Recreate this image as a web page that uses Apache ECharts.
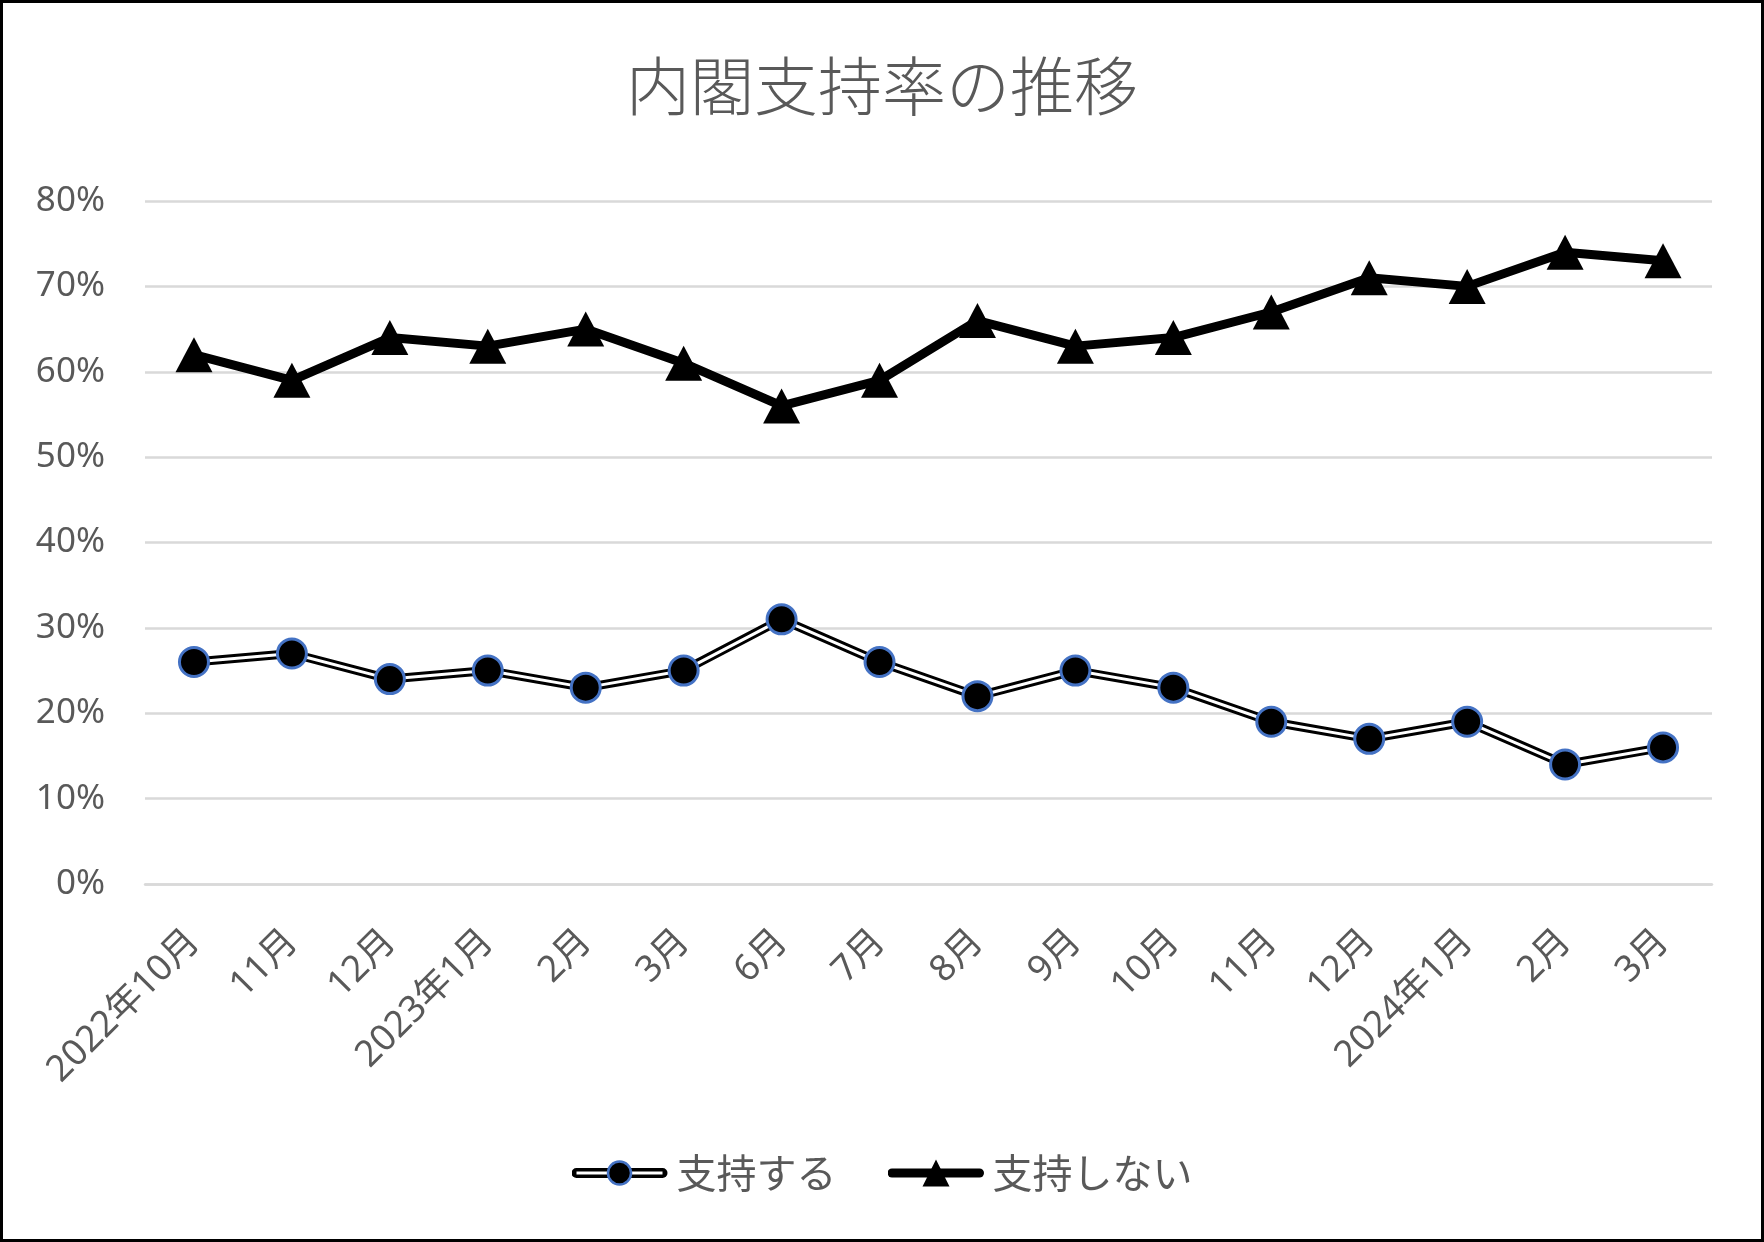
<!DOCTYPE html>
<html>
<head>
<meta charset="utf-8">
<script src="https://cdn.jsdelivr.net/npm/echarts@6/dist/echarts.min.js"></script>
<style>
html,body{margin:0;padding:0;background:#fff;}
#chart{position:absolute;left:0;top:0;width:1764px;height:1242px;}
#frame{position:absolute;left:0;top:0;width:1764px;height:1242px;box-sizing:border-box;border:3px solid #000;pointer-events:none;}
</style>
</head>
<body>
<div id="chart"></div>
<div id="frame"></div>
<script>
const categories = ['2022年10月','11月','12月','2023年1月','2月','3月','6月','7月','8月','9月','10月','11月','12月','2024年1月','2月','3月'];
const supportValues = [26, 27, 24, 25, 23, 25, 31, 26, 22, 25, 23, 19, 17, 19, 14, 16];
const notSupportValues = [62, 59, 64, 63, 65, 61, 56, 59, 66, 63, 64, 67, 71, 70, 74, 73];
const seriesNames = ['支持する', '支持しない'];
const titleText = '内閣支持率の推移';

const textColor = '#595959';
const svg1 = "<svg xmlns='http://www.w3.org/2000/svg' width='100' height='28' viewBox='0 0 100 28' preserveAspectRatio='none'><line x1='5' y1='14' x2='91' y2='14' stroke='black' stroke-width='10' stroke-linecap='round'/><line x1='5' y1='14' x2='91' y2='14' stroke='white' stroke-width='3'/><circle cx='48' cy='14' r='11.5' fill='black' stroke='#4472C4' stroke-width='2.5'/></svg>";
const svg2 = "<svg xmlns='http://www.w3.org/2000/svg' width='100' height='28' viewBox='0 0 100 28' preserveAspectRatio='none'><line x1='4.5' y1='14' x2='92' y2='14' stroke='black' stroke-width='9' stroke-linecap='round'/><polygon points='48.5,0.5 35,27.5 62,27.5' fill='black'/></svg>";
const icon1 = 'image://data:image/svg+xml;charset=utf-8,' + encodeURIComponent(svg1);
const icon2 = 'image://data:image/svg+xml;charset=utf-8,' + encodeURIComponent(svg2);

const chart = echarts.init(document.getElementById('chart'), null, {renderer: 'canvas'});
chart.setOption({
  animation: false,
  backgroundColor: '#fff',
  title: {
    text: titleText,
    left: 'center',
    top: 49,
    textStyle: {
      fontFamily: '"Noto Sans CJK JP"',
      fontWeight: 300,
      fontSize: 64,
      color: textColor
    }
  },
  legend: {
    data: [
      {name: seriesNames[0], icon: icon1},
      {name: seriesNames[1], icon: icon2}
    ],
    left: 'center',
    top: 1148,
    itemWidth: 100,
    itemHeight: 28,
    itemGap: 51,
    textStyle: {
      fontFamily: '"Noto Sans CJK JP"',
      fontSize: 40,
      color: textColor
    }
  },
  grid: {left: 145, right: 52, top: 201, bottom: 358, containLabel: false},
  xAxis: {
    type: 'category',
    data: categories,
    boundaryGap: true,
    axisLine: {show: true, lineStyle: {color: '#d9d9d9', width: 2.5}},
    axisTick: {show: false},
    axisLabel: {
      rotate: 45,
      margin: 52,
      interval: 0,
      fontFamily: '"Noto Sans", "Noto Sans CJK JP"',
      fontSize: 36.5,
      color: textColor
    }
  },
  yAxis: {
    type: 'value',
    min: 0,
    max: 80,
    interval: 10,
    axisLine: {show: false},
    axisTick: {show: false},
    splitLine: {lineStyle: {color: '#d9d9d9', width: 2.5}},
    axisLabel: {
      formatter: '{value}%',
      margin: 40,
      fontFamily: '"Noto Sans"',
      fontSize: 35,
      color: textColor
    }
  },
  series: [
    {
      name: '支持する-outer',
      type: 'line',
      data: supportValues,
      symbol: 'none',
      z: 2,
      lineStyle: {color: '#000', width: 9},
      silent: true
    },
    {
      name: '支持する-inner',
      type: 'line',
      data: supportValues,
      symbol: 'none',
      z: 3,
      lineStyle: {color: '#fff', width: 3},
      silent: true
    },
    {
      name: seriesNames[0],
      type: 'line',
      data: supportValues,
      z: 4,
      symbol: 'circle',
      symbolSize: 29,
      lineStyle: {width: 0, opacity: 0},
      itemStyle: {color: '#000', borderColor: '#4472C4', borderWidth: 3}
    },
    {
      name: seriesNames[1],
      type: 'line',
      data: notSupportValues,
      z: 4,
      symbol: 'triangle',
      symbolSize: [37, 35],
      lineStyle: {color: '#000', width: 9},
      itemStyle: {color: '#000'}
    }
  ]
});
</script>
</body>
</html>
